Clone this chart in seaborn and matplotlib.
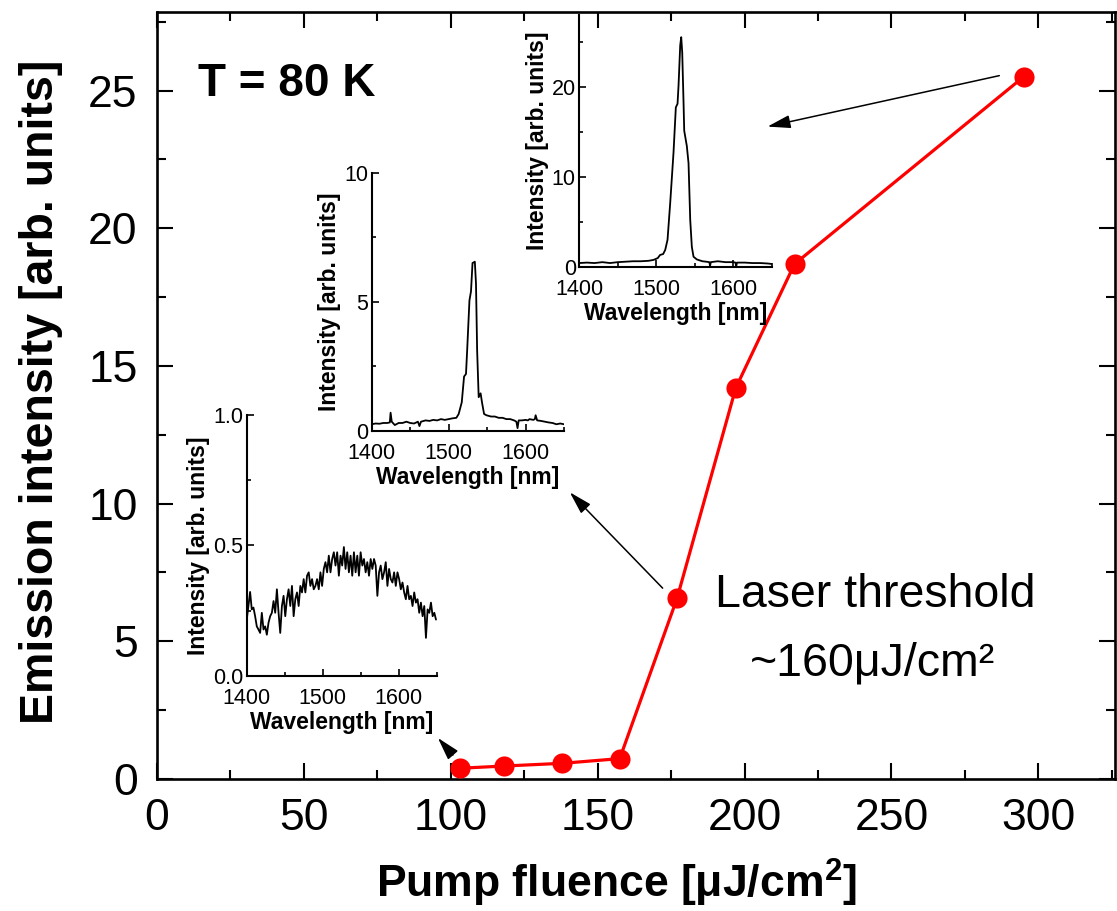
import numpy as np
import matplotlib
matplotlib.use("Agg")
import matplotlib.pyplot as plt
from matplotlib.ticker import MultipleLocator, FixedLocator
import seaborn as sns

# ---- main curve: integrated emission vs pump fluence ----
fluence = [103, 118, 138, 157.5, 177, 197, 217, 295]
emission = [0.39, 0.47, 0.57, 0.74, 6.56, 14.2, 18.7, 25.5]

# ---- spectrum below threshold (broad PL) ----
broad_int = [
    0.216, 0.268, 0.322, 0.255, 0.262, 0.229, 0.190, 0.178, 0.165, 0.242,
    0.178, 0.190, 0.158, 0.204, 0.229, 0.242, 0.287, 0.242, 0.332, 0.242,
    0.165, 0.268, 0.307, 0.229, 0.294, 0.332, 0.268, 0.345, 0.229, 0.294,
    0.320, 0.268, 0.345, 0.320, 0.371, 0.320, 0.384, 0.397, 0.345, 0.371,
    0.332, 0.345, 0.371, 0.332, 0.397, 0.345, 0.410, 0.436, 0.397, 0.461,
    0.397, 0.448, 0.474, 0.423, 0.474, 0.384, 0.461, 0.423, 0.494, 0.410,
    0.474, 0.397, 0.461, 0.384, 0.474, 0.397, 0.461, 0.384, 0.474, 0.423,
    0.448, 0.397, 0.436, 0.384, 0.448, 0.410, 0.448, 0.423, 0.307, 0.397,
    0.423, 0.371, 0.397, 0.436, 0.345, 0.410, 0.371, 0.358, 0.397, 0.345,
    0.397, 0.371, 0.332, 0.358, 0.320, 0.294, 0.345, 0.294, 0.307, 0.268,
    0.320, 0.281, 0.294, 0.242, 0.281, 0.229, 0.268, 0.146, 0.255, 0.242,
    0.281, 0.229, 0.242, 0.216,
]
broad_wl = np.linspace(1400, 1649, len(broad_int))

# ---- spectrum just above threshold ----
mid_wl = [1400, 1405, 1410, 1415, 1420, 1423.5, 1424.5, 1426, 1430, 1435,
          1440, 1445, 1450, 1455, 1460, 1462, 1464, 1470, 1475, 1480,
          1485, 1490, 1495, 1500, 1505, 1510, 1513, 1517, 1520, 1522.5,
          1524, 1527, 1529, 1531, 1534, 1535.5, 1537, 1539, 1541.5, 1543.3,
          1546, 1549, 1555, 1560, 1565, 1570, 1575, 1580, 1585, 1588,
          1589.5, 1591, 1595, 1600, 1603, 1605, 1610, 1612, 1613, 1615,
          1620, 1625, 1630, 1635, 1640, 1645, 1650]
mid_int = [0.25, 0.28, 0.27, 0.30, 0.30, 0.32, 0.70, 0.35, 0.22, 0.30,
           0.30, 0.35, 0.30, 0.28, 0.35, 0.18, 0.35, 0.40, 0.38, 0.42,
           0.40, 0.45, 0.42, 0.45, 0.48, 0.50, 0.65, 1.10, 2.10, 2.20,
           3.10, 5.05, 5.40, 6.50, 6.55, 5.70, 3.10, 1.30, 1.45, 1.10,
           0.65, 0.60, 0.55, 0.55, 0.50, 0.50, 0.45, 0.45, 0.40, 0.35,
           0.10, 0.40, 0.40, 0.42, 0.40, 0.45, 0.42, 0.45, 0.60, 0.40,
           0.38, 0.35, 0.32, 0.30, 0.25, 0.28, 0.25]

# ---- spectrum at highest fluence ----
high_wl = [1400, 1410, 1420, 1430, 1440, 1450, 1460, 1470, 1480, 1490,
           1496.5, 1502, 1505, 1509, 1511.7, 1514.7, 1518.2, 1522.5, 1525.5,
           1527.7, 1529, 1531.2, 1532.5, 1533.8, 1535.5, 1536.4, 1539.8,
           1542, 1544.2, 1546.3, 1548.5, 1552.8, 1560, 1565, 1569, 1570,
           1571, 1580, 1590, 1600, 1603, 1604, 1605, 1615, 1625, 1635,
           1645, 1650]
high_int = [0.40, 0.45, 0.40, 0.50, 0.40, 0.50, 0.55, 0.60, 0.60, 0.65,
            0.75, 0.95, 1.30, 1.40, 1.86, 2.98, 7.10, 12.7, 17.7,
            18.1, 20.1, 24.6, 25.5, 23.8, 18.3, 15.1, 13.4,
            11.5, 5.20, 2.20, 1.10, 0.80, 0.60, 0.55, 0.50, 0.10,
            0.50, 0.60, 0.50, 0.50, 0.45, 0.05, 0.45, 0.45, 0.40, 0.40,
            0.35, 0.30]

sns.set_theme(style="ticks")
plt.rcParams["font.family"] = ["Liberation Sans", "DejaVu Sans"]
plt.rcParams["mathtext.fontset"] = "custom"
plt.rcParams["mathtext.rm"] = "Liberation Sans"
plt.rcParams["mathtext.bf"] = "Liberation Sans:bold"
plt.rcParams["xtick.direction"] = "in"
plt.rcParams["ytick.direction"] = "in"
for key in ("text.color", "axes.labelcolor", "xtick.color", "ytick.color",
            "axes.edgecolor"):
    plt.rcParams[key] = "black"

DPI = 100
fig = plt.figure(figsize=(11.17, 9.11), dpi=DPI)
ax = fig.add_axes([0.1406, 0.1449, 0.8574, 0.8419])

sns.lineplot(x=fluence, y=emission, ax=ax, color="#ff0000", linewidth=2.3,
             marker="o", markersize=14.5, markeredgewidth=0,
             sort=False, estimator=None, zorder=5)

ax.set_xlim(0, 326)
ax.set_ylim(0, 27.85)
ax.xaxis.set_major_locator(MultipleLocator(50))
ax.xaxis.set_minor_locator(MultipleLocator(25))
ax.yaxis.set_major_locator(MultipleLocator(5))
ax.yaxis.set_minor_locator(MultipleLocator(2.5))
ax.tick_params(which="both", top=True, right=True, width=1.5, color="black",
               labelcolor="black")
ax.tick_params(which="major", length=11.5, labelsize=32, pad=14)
ax.tick_params(which="minor", length=6.5)
for s in ax.spines.values():
    s.set_linewidth(1.9)
    s.set_color("black")

ax.set_xlabel("Pump fluence [μJ/cm$^{\\mathbf{2}}$]", fontsize=32,
              fontweight="bold", color="black")
ax.set_ylabel("Emission intensity [arb. units]", fontsize=33.5,
              fontweight="bold", color="black")
ax.xaxis.set_label_coords(0.48, -0.102)
ax.yaxis.set_label_coords(-0.098, 0.505)

fig.text(0.1773, 0.8946, "T = 80 K", fontsize=33, fontweight="bold",
         ha="left", va="baseline", color="black")
fig.text(0.7833, 0.3337, "Laser threshold", fontsize=33.5, ha="center",
         va="baseline", color="black")
fig.text(0.7815, 0.259, "~160μJ/cm²", fontsize=33.5, ha="center",
         va="baseline", color="black")

arrow_kw = dict(arrowstyle="-|>,head_length=0.7,head_width=0.2",
                color="black", lw=1.1, mutation_scale=20,
                shrinkA=0, shrinkB=0)
for (x0, y0), (x1, y1) in [((286.7, 25.54), (207.8, 23.69)),
                           ((172.1, 6.93), (140.5, 10.41)),
                           ((100.7, 0.87), (95.6, 1.49))]:
    ax.annotate("", xy=(x1, y1), xytext=(x0, y0), arrowprops=arrow_kw,
                zorder=4)


def spectrum_inset(rect, wl, inten, ymax, ymajor, yminor, ylabels):
    ins = fig.add_axes(rect)
    sns.lineplot(x=wl, y=inten, ax=ins, color="black", linewidth=1.3,
                 sort=False, estimator=None)
    ins.set_xlim(1400, 1650)
    ins.set_ylim(0, ymax)
    ins.patch.set_alpha(0)
    ins.spines["top"].set_visible(False)
    ins.spines["right"].set_visible(False)
    for s in ("left", "bottom"):
        ins.spines[s].set_linewidth(1.5)
        ins.spines[s].set_color("black")
    ins.xaxis.set_major_locator(FixedLocator([1400, 1500, 1600]))
    ins.xaxis.set_minor_locator(FixedLocator([1450, 1550, 1650]))
    ins.yaxis.set_major_locator(FixedLocator(ymajor))
    ins.yaxis.set_minor_locator(FixedLocator(yminor))
    ins.set_yticklabels(ylabels)
    ins.tick_params(which="both", width=1.2, color="black",
                    labelcolor="black")
    ins.tick_params(which="major", length=5, labelsize=15.5)
    ins.tick_params(axis="y", which="major", pad=2.5)
    ins.tick_params(axis="x", which="major", pad=9)
    ins.tick_params(which="minor", length=3)
    ins.set_xlabel("Wavelength [nm]", fontsize=16.5, fontweight="bold",
                   labelpad=1, color="black")
    ins.set_ylabel("Intensity [arb. units]", fontsize=16.5,
                   fontweight="bold", labelpad=2, color="black")
    return ins


spectrum_inset([0.2209, 0.2580, 0.1701, 0.2865], broad_wl, broad_int, 1.0,
               [0, 0.5, 1.0], [0.25, 0.75], ["0.0", "0.5", "1.0"])
spectrum_inset([0.3328, 0.5272, 0.1722, 0.2832], mid_wl, mid_int, 10,
               [0, 5, 10], [2.5, 7.5], ["0", "5", "10"])
spectrum_inset([0.5186, 0.7073, 0.1722, 0.2766], high_wl, high_int, 28,
               [0, 10, 20], [5, 15, 25], ["0", "10", "20"])

fig.savefig("out.png", dpi=DPI)
